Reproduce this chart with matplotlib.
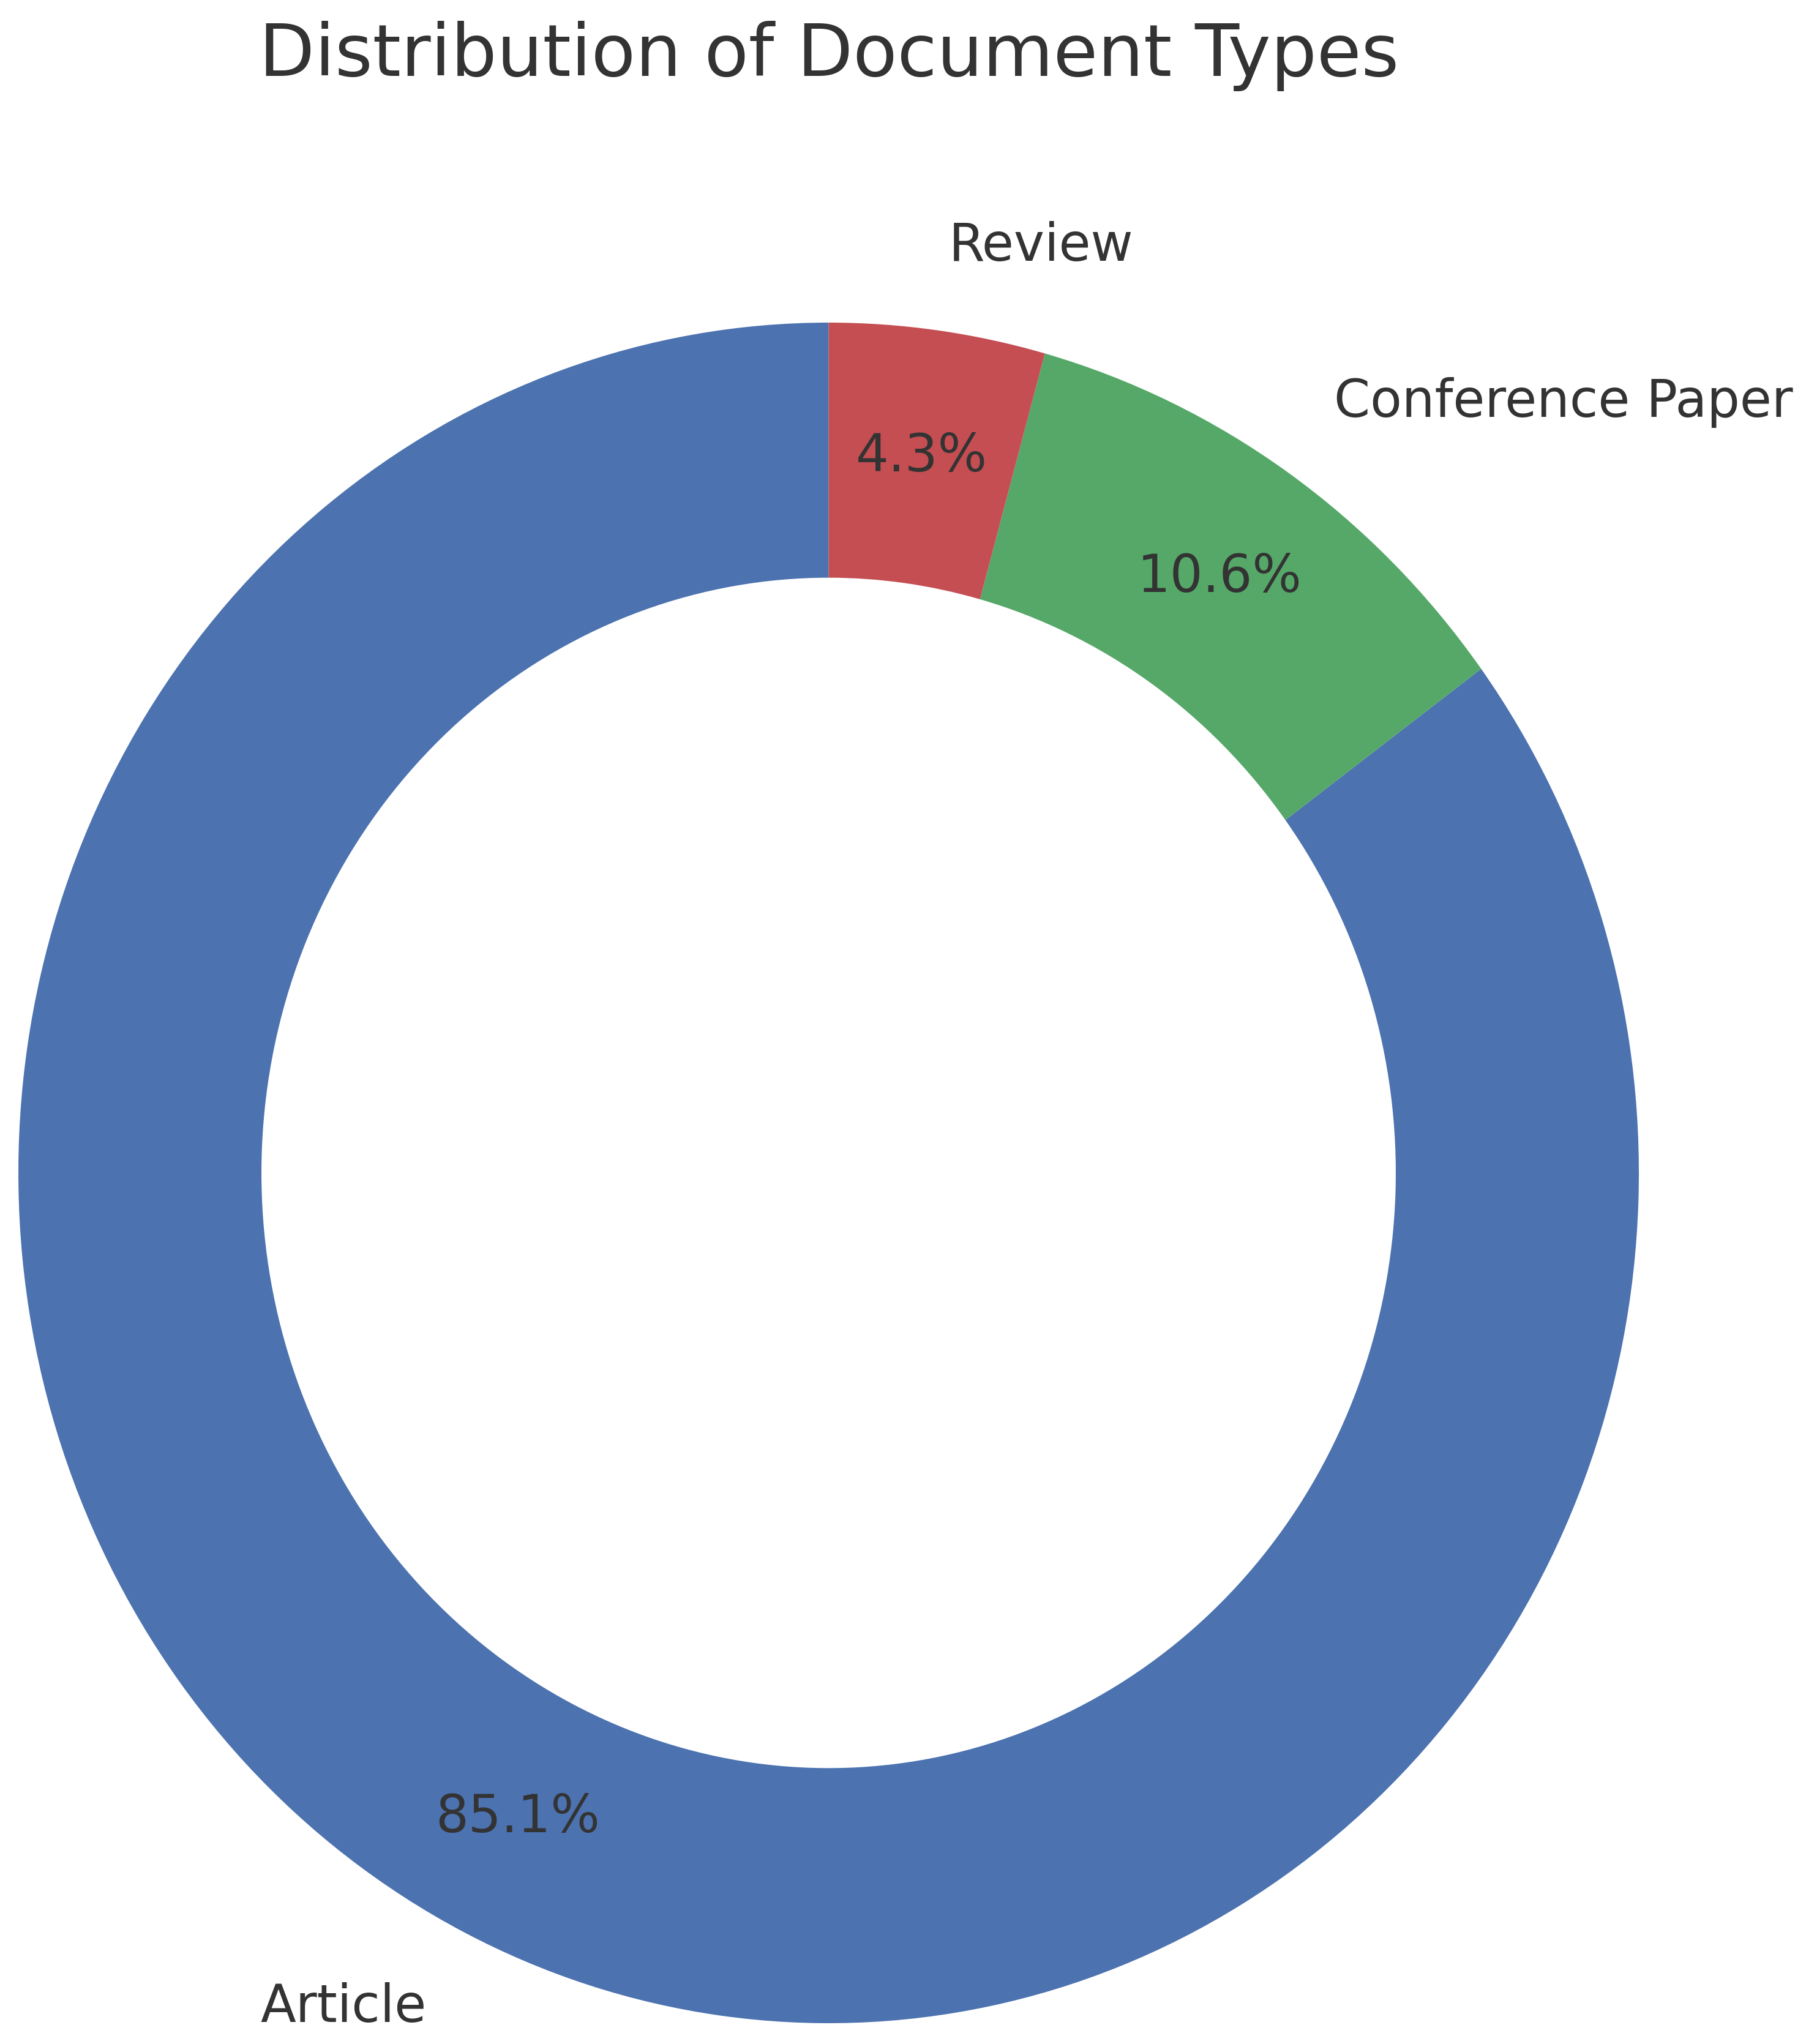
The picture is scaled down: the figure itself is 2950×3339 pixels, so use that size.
import matplotlib.pyplot as plt

# Dados
tipos = ['Article', 'Conference Paper', 'Review']
porcentagens = [85.1, 10.6, 4.3]
cores = ['#4C72B0', '#55A868', '#C44E52']

cor_texto = '#333333'

fig = plt.figure(figsize=(2950 / 300, 3339 / 300), dpi=300)

# Eixo posicionado manualmente (a rosca no original é levemente achatada)
ax = fig.add_axes([30 / 2950, 34 / 3339, 2647 / 2950, 2778 / 3339])

wedges, textos, autotextos = ax.pie(
    porcentagens,
    labels=tipos,
    colors=cores,
    autopct='%1.1f%%',
    startangle=90,
    pctdistance=0.85,
    labeldistance=1.1,
    wedgeprops=dict(width=0.3, edgecolor='none'),
    textprops=dict(color=cor_texto, fontsize=20.3),
)

ax.set_aspect('auto')
ax.set_xlim(-1, 1)
ax.set_ylim(-1, 1)
ax.axis('off')

# Título centralizado sobre a rosca
fig.text(1354 / 2950, 1 - 124 / 3339, 'Distribution of Document Types',
         ha='center', va='baseline', fontsize=28.4, color=cor_texto)

fig.savefig('out.png', dpi=300)
